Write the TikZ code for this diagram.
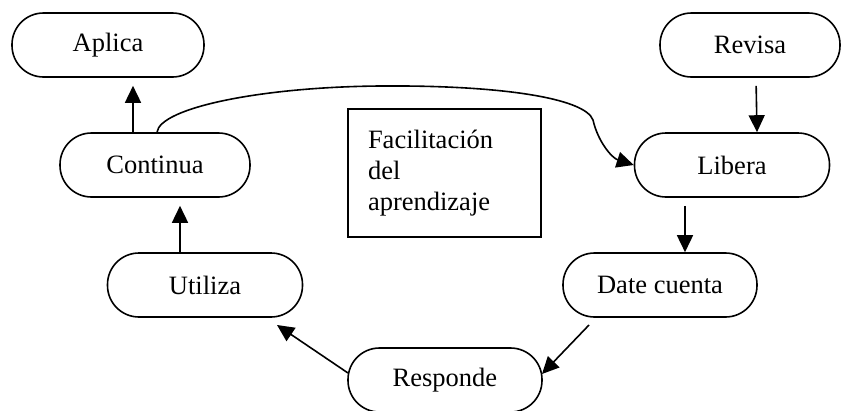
\documentclass[tikz,border=0pt]{standalone}
\usepackage{fontspec}
\setmainfont{Liberation Serif}
\usetikzlibrary{arrows.meta}
\begin{document}
\begin{tikzpicture}[x=1pt,y=-1pt,
  every node/.style={font=\fontsize{26.5}{31}\selectfont},
  pill/.style={draw, line width=1.6pt, rounded corners=31.5pt, minimum height=64pt, inner sep=0pt},
  arr/.style={line width=1.6pt, -{Triangle[length=17pt,width=16pt]}}]
\useasboundingbox (0,0) rectangle (843,410);
\node[pill, minimum width=192pt] (aplica) at (108,45) {Aplica};
\node[pill, minimum width=190pt] (continua) at (155,165) {Continua};
\node[pill, minimum width=195pt] (utiliza) at (205,285) {Utiliza};
\node[pill, minimum width=194pt] (responde) at (445,380) {Responde};
\node[pill, minimum width=194pt] (date) at (660,285) {Date cuenta};
\node[pill, minimum width=195pt] (libera) at (732,165) {Libera};
\node[pill, minimum width=180pt] (revisa) at (750,45) {Revisa};
\node[draw, line width=1.6pt, text width=153pt, align=left, inner xsep=20pt, inner ysep=0pt,
  minimum height=128pt] (fac) at (444.5,173) {Facilitación\\del\\aprendizaje};
\draw[arr, shorten >=8pt] ([xshift=-22pt]continua.north) -- ([xshift=25pt]aplica.south);
\draw[arr, shorten >=8pt] ([xshift=-25pt]utiliza.north) -- ([xshift=25pt]continua.south);
\draw[arr, shorten <=8pt] ([xshift=6pt]revisa.south) -- ([xshift=25pt]libera.north);
\draw[arr, shorten <=8pt] ([xshift=-47pt]libera.south) -- ([xshift=25pt]date.north);
\draw[arr] ([shift={(-71,40)}]date.center) -- ([shift={(97,-6)}]responde.center);
\draw[arr] ([shift={(-97,-7)}]responde.center) -- ([shift={(72,40)}]utiliza.center);
\draw[arr] ([xshift=2pt]continua.north) .. controls (160,108) and (260,87) .. (380,86)
  .. controls (500,85) and (585,98) .. (593,120)
  .. controls (598,142) and (612,158) .. (libera.west);
\end{tikzpicture}
\end{document}
